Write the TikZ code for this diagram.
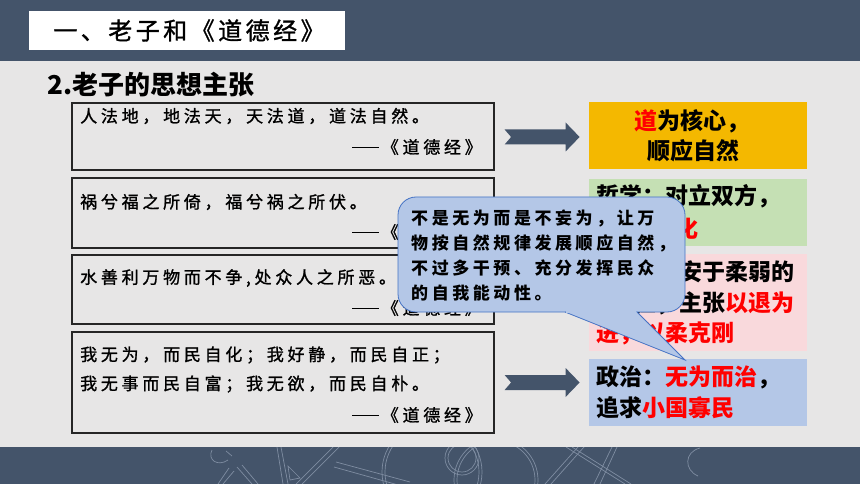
\documentclass[tikz,border=0pt]{standalone}
\usepackage{fontspec}
\usetikzlibrary{calc}
\newfontfamily\hei{Noto Sans CJK SC}
\newfontfamily\kai[LetterSpace=22,FakeBold=1.2]{Noto Sans CJK SC}
\newfontfamily\kaititle[LetterSpace=14.5,FakeBold=1.2]{Noto Sans CJK SC}
\newfontfamily\kaicall[LetterSpace=21]{Noto Sans CJK SC}
\definecolor{slate}{HTML}{44546A}
\definecolor{bggray}{HTML}{E7E6E6}
\definecolor{gold}{HTML}{F4B800}
\definecolor{lgreen}{HTML}{C5E0B4}
\definecolor{lpink}{HTML}{F9D9DC}
\definecolor{lblue}{HTML}{B4C7E7}
\definecolor{cborder}{HTML}{4472C4}
\definecolor{decol}{HTML}{7F8DA2}
\definecolor{boxline}{HTML}{262626}
\tikzset{
  qbox/.style={draw=boxline, line width=1.2pt, inner sep=0pt},
  qtext/.style={font=\kai\fontsize{17}{20}\selectfont, inner sep=0pt, text=black},
  rbox/.style={inner sep=0pt, minimum width=218, minimum height=67},
  rtext/.style={font=\hei\bfseries\fontsize{23}{30}\selectfont, inner sep=0pt, text=black},
  callout/.style={fill=lblue, draw=cborder, line width=0.8pt},
  deco/.style={draw=decol, line width=0.7pt},
  pics/blockarrow/.style={code={
    \fill[slate] (-37.5,-7.5) -- (23.5,-7.5) -- (23.5,-14.5) -- (37.5,0)
      -- (23.5,14.5) -- (23.5,7.5) -- (-37.5,7.5) -- (-31,0) -- cycle;}}
}
\newcommand{\srcline}{{\rule[5.5pt]{27pt}{1.3pt}\,《道德经》}}
\begin{document}
\begin{tikzpicture}[x=1pt,y=-1pt]
\useasboundingbox (0,0) rectangle (860,484);
% backgrounds
\fill[bggray] (0,0) rectangle (860,484);
\fill[slate] (0,0) rectangle (860,61);
\fill[slate] (0,447) rectangle (860,484);
% decoration in the bottom band
\begin{scope}
\clip (0,447) rectangle (860,484);
\draw[deco] (212,450) .. controls (207,460) and (218,467) .. (228,460);
\draw[deco] (226,451) -- (232,456);
\draw[deco] (218,484) -- (229,468); \draw[deco] (223,484) -- (234,471);
\draw[deco] (237,467) -- (252,484); \draw[deco] (242,465) -- (258,484);
\draw[deco] (277,447) -- (283,484); \draw[deco] (281,447) -- (288,484);
\draw[deco] (333,447) -- (296,484); \draw[deco] (339,447) -- (302,484);
\draw[deco] (336,462) -- (410,482); \draw[deco] (334,467) -- (402,486);
\draw[deco] (288,466) -- (300,478) -- (290,480) -- cycle;
\draw[deco] (432,472) circle[radius=50]; \draw[deco] (432,472) circle[radius=47];
\draw[deco] (496,480) circle[radius=42]; \draw[deco] (496,480) circle[radius=39];
\draw[deco] (462,458) circle[radius=17]; \draw[deco] (462,458) circle[radius=14];
\draw[deco] (545,484) -- (578,447); \draw[deco] (551,484) -- (584,447);
\draw[deco] (566,447) -- (625,484); \draw[deco] (572,447) -- (631,484);
\draw[deco] (612,447) -- (594,484); \draw[deco] (617,447) -- (600,484);
\draw[deco] (700,448) .. controls (684,452) and (684,470) .. (698,476);
\end{scope}
% title
\node[fill=white, minimum width=316, minimum height=39, inner sep=0pt] (tbox) at (187,30.5) {};
\node[font=\kaititle\fontsize{24}{26}\selectfont, inner sep=0pt] (ttext) at (189,30.5) {一、老子和《道德经》};
% heading
\node[font=\hei\bfseries\fontsize{26}{30}\selectfont, anchor=west, inner sep=0pt] (head) at (47,85) {2.老子的思想主张};
% quote boxes
\node[qbox, minimum width=422, minimum height=67] (q1) at (283,136.5) {};
\node[qbox, minimum width=422, minimum height=70] (q2) at (283,213) {};
\node[qbox, minimum width=422, minimum height=69] (q3) at (283,289.5) {};
\node[qbox, minimum width=422, minimum height=101] (q4) at (283,382.5) {};
\node[qtext, anchor=west] (q1a) at (80,116) {人法地，地法天，天法道，道法自然。};
\node[qtext, anchor=east] (q1s) at (482,147) {\srcline};
\node[qtext, anchor=west] (q2a) at (80,202) {祸兮福之所倚，福兮祸之所伏。};
\node[qtext, anchor=east] (q2s) at (482,232) {\srcline};
\node[qtext, anchor=west] (q3a) at (80,278) {水善利万物而不争,处众人之所恶。};
\node[qtext, anchor=east] (q3s) at (482,308) {\srcline};
\node[qtext, anchor=west] (q4a) at (80,355) {我无为，而民自化；我好静，而民自正；};
\node[qtext, anchor=west] (q4b) at (80,384) {我无事而民自富；我无欲，而民自朴。};
\node[qtext, anchor=east] (q4s) at (482,415) {\srcline};
% right boxes
\node[rbox, fill=gold] (r1) at (698,135.5) {};
\node[rbox, fill=lgreen] (r2) at (698,212.5) {};
\node[rbox, fill=lpink, minimum height=97] (r3) at (698,302.5) {};
\node[rbox, fill=lblue] (r4) at (698,392.5) {};
\node[rtext, anchor=west] (r1a) at (634,121) {\textcolor{red}{道}为核心，};
\node[rtext, anchor=west] (r1b) at (647,151) {顺应自然};
\node[rtext, anchor=west] (r2a) at (596,196) {哲学：对立双方，};
\node[rtext, anchor=east] (r2b) at (699,229) {\textcolor{red}{相互转化}};
\node[rtext, anchor=east] (r3a) at (795,272) {处世：安于柔弱的};
\node[rtext, anchor=east] (r3b) at (795,303) {地位，主张\textcolor{red}{以退为}};
\node[rtext, anchor=west] (r3c) at (596,333) {\textcolor{red}{进，以柔克刚}};
\node[rtext, anchor=west] (r4a) at (596,377) {政治：\textcolor{red}{无为而治}，};
\node[rtext, anchor=west] (r4b) at (596,408) {追求\textcolor{red}{小国寡民}};
% arrows
\pic (arr1) at ($(q1.east)+(47.5,0.5)$) {blockarrow};
\pic (arr2) at ($(q4.east)+(47.5,0)$) {blockarrow};
% callout
\draw[callout, rounded corners=18pt] (398,197) rectangle (685,312);
\draw[callout] (637,312) -- (685,360) -- (565,312);
\draw[lblue, line width=1.6pt] (566,312) -- (636,312);
\node[font=\kaicall\bfseries\fontsize{17}{25}\selectfont, align=left, anchor=west, inner sep=0pt] (ctext) at (411,255.5)
  {不是无为而是不妄为，让万\\物按自然规律发展顺应自然，\\不过多干预、充分发挥民众\\的自我能动性。};
\end{tikzpicture}
\end{document}
